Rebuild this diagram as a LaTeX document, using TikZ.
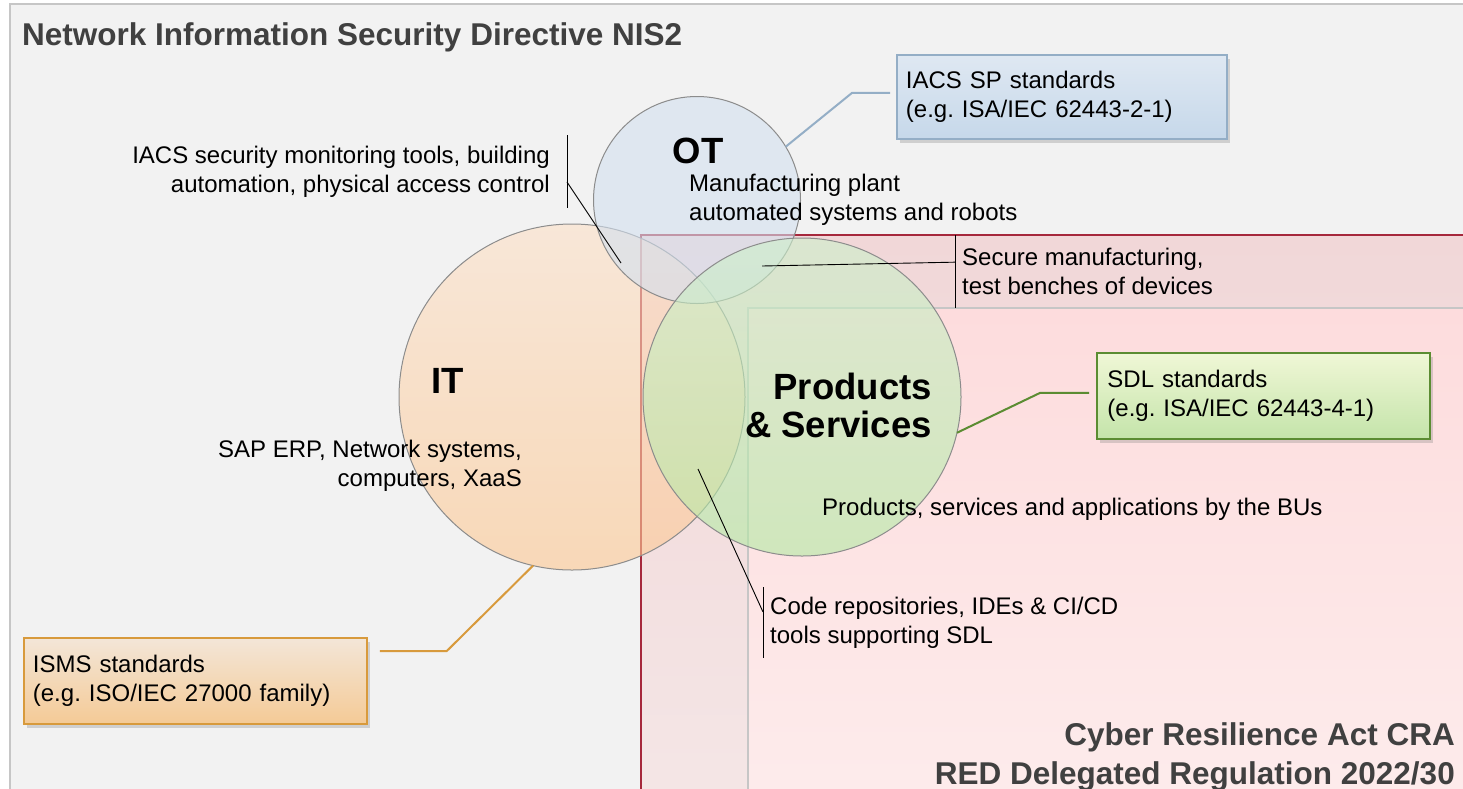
\documentclass[tikz,border=0pt]{standalone}
\usepackage{fontspec}
\setmainfont{Liberation Sans}
\usepackage{xcolor}
\usetikzlibrary{positioning,calc,shadows}
\frenchspacing

\definecolor{nisgray}{HTML}{F2F2F2}
\definecolor{nisline}{HTML}{C6C6C6}
\definecolor{headgray}{HTML}{404040}
\definecolor{crared}{HTML}{A6283C}
\definecolor{crabandtop}{HTML}{F1D7D8}
\definecolor{crabandbot}{HTML}{F4E6E6}
\definecolor{crafilltop}{HTML}{FDDCDD}
\definecolor{crafillbot}{HTML}{FDECEC}
\definecolor{otblue}{HTML}{D3E0EF}
\definecolor{ittop}{HTML}{FCE0C7}
\definecolor{itbot}{HTML}{FCC791}
\definecolor{pstop}{HTML}{CDF0CC}
\definecolor{psbot}{HTML}{B2EAA2}
\definecolor{sptop}{HTML}{DFE8F2}
\definecolor{spbot}{HTML}{C6D8EA}
\definecolor{spedge}{HTML}{94AEC6}
\definecolor{sdltop}{HTML}{F0F7D6}
\definecolor{sdlbot}{HTML}{C4E4AA}
\definecolor{sdledge}{HTML}{5B8C32}
\definecolor{ismstop}{HTML}{F3E6D8}
\definecolor{ismsbot}{HTML}{F4CA96}
\definecolor{ismsedge}{HTML}{D89A3C}

\begin{document}
\begin{tikzpicture}[
    x=1pt, y=-1pt,
    body/.style={font=\fontsize{24}{29}\selectfont, inner sep=0pt},
    big/.style={font=\bfseries\fontsize{36.5}{38}\selectfont, inner sep=0pt},
    heading/.style={font=\bfseries\fontsize{31.5}{39}\selectfont, text=headgray, inner sep=0pt},
    area/.style={circle, draw=black!45, line width=1pt, fill opacity=0.6, inner sep=0pt, outer sep=0pt},
    tagnote/.style={body, minimum height=73pt, align=left},
    leader/.style={line width=0.9pt},
    stdbox/.style={body, draw, line width=1.8pt, minimum width=330pt, minimum height=84pt, text width=312pt, inner xsep=9pt, align=left, drop shadow={shadow xshift=3pt, shadow yshift=-4pt, opacity=0.3}},
    stdlink/.style={line width=2pt}
]
\useasboundingbox (0,0) rectangle (1463,788);
\clip (0,0) rectangle (1463,788);

\draw [fill=nisgray, draw=nisline, line width=2pt] (10,4) rectangle (1490,810);
\shade [top color=crabandtop, bottom color=crabandbot] (641,235) rectangle (1490,810);
\draw [crared, line width=2.5pt] (641,810) -- (641,235) -- (1490,235);
\shade [top color=crafilltop, bottom color=crafillbot] (748,308) rectangle (1490,810);
\draw [nisline, line width=2pt] (748,810) -- (748,308) -- (1490,308);

\node [heading, anchor=base west] (nis) at (22,45) {Network Information Security Directive NIS2};
\node [heading, align=right, anchor=north east] (cra) at (1455,722) {Cyber Resilience Act CRA\\RED Delegated Regulation 2022/30};

\node [area, top color=ittop, bottom color=itbot, minimum size=346pt] (itc) at (572,397) {};
\node [area, fill=otblue, minimum size=207pt] (otc) at (697,200) {};
\node [area, top color=pstop, bottom color=psbot, minimum size=318pt] (psc) at (802,397) {};

\node [big, anchor=base] (otlbl) at (698,163) {OT};
\node [body, align=left, anchor=north west] (otnote) at (689,174) {Manufacturing plant\\automated systems and robots};
\node [big, anchor=base] (itlbl) at (448,393) {IT};
\node [body, align=right, anchor=north east] (itnote) at (522,440) {SAP ERP, Network systems,\\computers, XaaS};
\node [big, align=right, anchor=north east] (pslbl) at (932,373) {Products\\\& Services};
\node [body, anchor=base west] (psnote) at (822,515) {Products, services and applications by the BUs};

\coordinate (otit) at (621,263);
\coordinate (otps) at (762,266);
\coordinate (itps) at (698,469);

\node [tagnote, align=right, inner xsep=17pt, anchor=north east] (mon) at (567,135) {IACS security monitoring tools, building\\automation, physical access control};
\node [tagnote, inner xsep=7pt, anchor=north west] (sec) at (955,235) {Secure manufacturing,\\test benches of devices};
\node [tagnote, inner xsep=7pt, anchor=north west, minimum height=71pt] (code) at (763,587) {Code repositories, IDEs \& CI/CD\\tools supporting SDL};

\draw [leader] (mon.north east) -- (mon.south east);
\draw [leader] ($(mon.north east)!0.64!(mon.south east)$) -- (otit);
\draw [leader] (sec.north west) -- (sec.south west);
\draw [leader] ($(sec.north west)!0.37!(sec.south west)$) -- (otps);
\draw [leader] (code.north west) -- (code.south west);
\draw [leader] ($(code.north west)!0.35!(code.south west)$) -- (itps);

\node [stdbox, top color=sptop, bottom color=spbot, draw=spedge, anchor=north west] (sp) at (896,54) {IACS SP standards\\(e.g. ISA/IEC 62443-2-1)};
\node [stdbox, top color=sdltop, bottom color=sdlbot, draw=sdledge, anchor=north west, minimum width=333pt, minimum height=86pt] (sdl) at (1096,352) {SDL standards\\(e.g. ISA/IEC 62443-4-1)};
\node [stdbox, top color=ismstop, bottom color=ismsbot, draw=ismsedge, anchor=north west, minimum width=343pt, minimum height=86pt, text width=325pt] (isms) at (23,637) {ISMS standards\\(e.g. ISO/IEC 27000 family)};

\draw [stdlink, spedge] (otc.31) -- ($(sp.west)+(-44,-4)$) -- ($(sp.west)+(-6,-4)$);
\draw [stdlink, sdledge] (psc.-13) -- ($(sdl.west)+(-56,-3)$) -- ($(sdl.west)+(-7,-3)$);
\draw [stdlink, ismsedge] (itc.257) -- ($(isms.north east)+(79,14)$) -- ($(isms.north east)+(12,14)$);

\end{tikzpicture}
\end{document}
